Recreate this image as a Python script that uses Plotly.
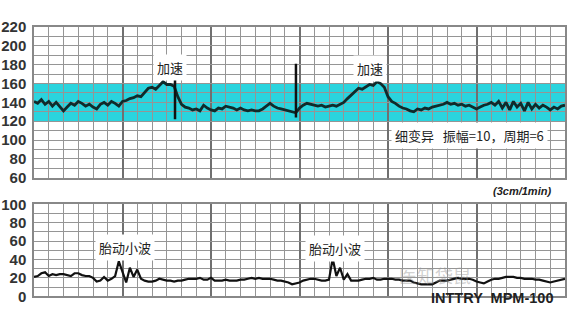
import numpy as np
import plotly.graph_objects as go

# ---------------- data ----------------
# time axis in chart divisions (6 small divisions per major block)
step = 0.25
fhr = [141, 139, 143, 138, 141, 136, 140, 135, 131, 135, 139, 137, 141, 139, 136, 138,
       135, 133, 138, 140, 137, 141, 139, 136, 141, 142, 144, 145, 147, 146, 150, 155,
       156, 154, 158, 162, 159, 159, 157, 146, 138, 135, 134, 132, 133, 131, 137, 134,
       132, 131, 134, 133, 136, 135, 134, 132, 134, 132, 131, 132, 131, 131, 133, 136,
       139, 136, 134, 133, 132, 131, 130, 129, 134, 137, 139, 138, 137, 136, 137, 135,
       136, 137, 136, 138, 140, 144, 148, 151, 155, 154, 157, 159, 158, 162, 160, 156,
       146, 141, 139, 136, 134, 133, 131, 130, 133, 132, 134, 133, 135, 136, 137, 138,
       140, 138, 139, 137, 138, 136, 137, 135, 133, 135, 137, 138, 140, 137, 141, 134,
       140, 132, 141, 135, 139, 131, 140, 133, 138, 134, 137, 135, 132, 135, 133, 136, 137]
uc = [21, 22, 25, 26, 22, 24, 23, 24, 24, 23, 22, 25, 25, 23, 22, 22,
      20, 16, 17, 21, 17, 19, 22, 38, 26, 15, 31, 21, 29, 19, 17, 16,
      16, 17, 19, 18, 17, 17, 16, 17, 17, 18, 19, 19, 19, 20, 18, 18,
      20, 17, 17, 17, 18, 17, 17, 17, 18, 18, 19, 20, 19, 20, 19, 19,
      19, 18, 17, 17, 16, 15, 13, 14, 15, 17, 18, 19, 19, 18, 17, 17,
      18, 41, 22, 31, 18, 24, 17, 17, 17, 18, 19, 19, 20, 18, 18, 19,
      19, 19, 18, 18, 17, 17, 17, 15, 14, 13, 13, 13, 13, 15, 17, 17,
      17, 18, 19, 20, 19, 19, 19, 18, 16, 15, 14, 16, 18, 19, 19, 20,
      21, 21, 21, 20, 20, 19, 19, 19, 18, 18, 17, 16, 15, 16, 17, 18, 19]
t_fhr = np.arange(len(fhr)) * step
t_uc = np.arange(len(uc)) * step

marker_t = [9.56, 17.76]        # event marks
marker_top = [182, 181]
marker_bottom = [122, 124]

fhr_ticks = [60, 80, 100, 120, 140, 160, 180, 200, 220]
uc_ticks = [0, 20, 40, 60, 80, 100]

# ---------------- figure ----------------
W, H = 575, 327
def py(px):
    return 1 - px / H

fig = go.Figure()

line_col = "#0f2b2b"
fig.add_trace(go.Scatter(x=t_fhr, y=fhr, mode="lines", line=dict(color=line_col, width=2.8),
                         xaxis="x", yaxis="y", showlegend=False, hoverinfo="skip"))
fig.add_trace(go.Scatter(x=t_uc, y=uc, mode="lines", line=dict(color="#111", width=2.2),
                         xaxis="x2", yaxis="y2", showlegend=False, hoverinfo="skip"))

tickfont = dict(family="Liberation Sans, Arial", size=15, color="#333", weight="bold")
grid_minor = dict(showgrid=True, gridcolor="#959595", gridwidth=1)

xcommon = dict(range=[0, 36], showticklabels=False, ticks="", zeroline=False,
               dtick=6, tick0=0, showgrid=True, gridcolor="#707070", gridwidth=2,
               minor=dict(dtick=1, tick0=0, **grid_minor),
               showline=True, linecolor="#888", linewidth=1.5, mirror=True)
fig.update_layout(
    width=W, height=H, margin=dict(l=34, r=10, t=0, b=0),
    paper_bgcolor="white", plot_bgcolor="white",
    xaxis=dict(domain=[0, 1], anchor="y", **xcommon),
    xaxis2=dict(domain=[0, 1], anchor="y2", **xcommon),
    yaxis=dict(domain=[py(178), py(19)], range=[60, 220], tickvals=fhr_ticks,
               showgrid=True, gridcolor="#959595", gridwidth=1,
               minor=dict(dtick=10, tick0=0, **grid_minor),
               tickfont=tickfont, ticks="", zeroline=False, ticklabelstandoff=3,
               showline=True, linecolor="#888", linewidth=1.5, mirror=True),
    yaxis2=dict(domain=[py(303), py(206)], range=[0, 100], tickvals=uc_ticks,
                showgrid=True, gridcolor="#959595", gridwidth=1,
                minor=dict(dtick=10, tick0=0, **grid_minor),
                tickfont=tickfont, ticks="", zeroline=False, ticklabelstandoff=3,
                showline=True, linecolor="#888", linewidth=1.5, mirror=True),
)

# normal FHR band
fig.add_shape(type="rect", xref="x", yref="y", x0=0, x1=36, y0=120, y1=160,
              fillcolor="#2ad4de", line_width=0, layer="below")

cjk = "Noto Sans CJK SC"
def label(text, x, y, xref, yref, size=13, **kw):
    fig.add_annotation(text=text, x=x, y=y, xref=xref, yref=yref, showarrow=False,
                       font=dict(family=cjk, size=size, color="#222"),
                       bgcolor="white", borderpad=3, **kw)

label("加速", 9.2, 177, "x", "y")
label("加速", 22.8, 176, "x", "y")
label("细变异   振幅=10，周期=6", 29.5, 105, "x", "y", size=13)
label("胎动小波", 6.2, 53, "x2", "y2")
label("胎动小波", 20.4, 52, "x2", "y2")

# event marks drawn over the labels
for mt, a, b in zip(marker_t, marker_top, marker_bottom):
    fig.add_shape(type="line", xref="x", yref="y", x0=mt, x1=mt, y0=a, y1=b,
                  line=dict(color="#111", width=2.5), layer="above")

fig.add_annotation(text="<b><i>(3cm/1min)</i></b>", x=562 / W, y=py(192), xref="paper", yref="paper",
                   xanchor="right", showarrow=False,
                   font=dict(family="Liberation Sans, Arial", size=11, color="#222"))
fig.add_annotation(text="医知袋鼠", x=475 / W, y=py(296), xref="paper", yref="paper",
                   showarrow=False, font=dict(family=cjk, size=18, color="rgba(150,150,150,0.45)"))
fig.add_annotation(text="<b>INTTRY  MPM-100</b>", x=564 / W, y=py(315), xref="paper", yref="paper",
                   xanchor="right", showarrow=False,
                   font=dict(family="Liberation Sans, Arial", size=14.5, color="#222"))

fig.write_html("out.html")
